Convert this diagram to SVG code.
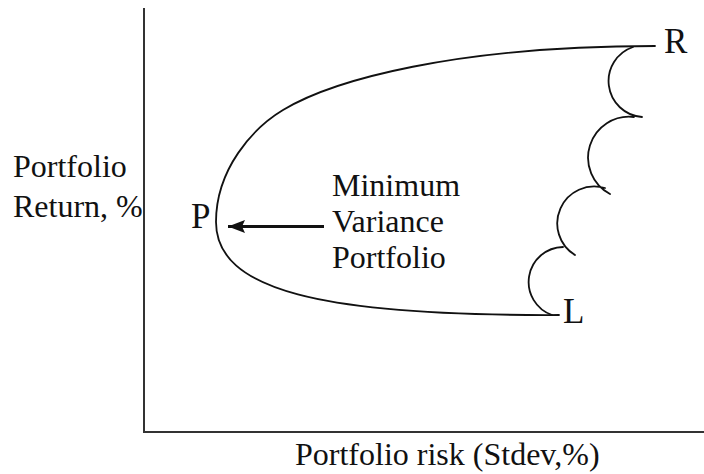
<svg xmlns="http://www.w3.org/2000/svg" width="704" height="474" viewBox="0 0 704 474">
<style>
.t{font-family:'Liberation Serif','DejaVu Serif',serif;fill:#111}
.lbl{font-size:32px}
.pt{font-size:35px}
.ln{fill:none;stroke:#111;stroke-width:1.8;stroke-linecap:round}
.ax{fill:none;stroke:#333;stroke-width:2}
</style>
<defs>
<marker id="ah" viewBox="0 0 17 13" refX="17" refY="6.5" markerWidth="17" markerHeight="13" markerUnits="userSpaceOnUse" orient="auto">
<path d="M17,6.5 L0,0 L3,6.5 L0,13 Z" fill="#111"/>
</marker>
</defs>
<rect width="704" height="474" fill="#fff"/>
<g id="axes">
<path class="ax" d="M144,8 V432 H704"/>
<text class="t lbl" x="13" y="177">Portfolio</text>
<text class="t lbl" x="13" y="217">Return, %</text>
<text class="t lbl" x="295" y="465">Portfolio risk (Stdev,%)</text>
</g>
<g id="frontier">
<path class="ln" d="M655,46 C455,46 333,80 283,110 C253,128 216,169 216,222 C216,290 320,316 559,315"/>
<path class="ln" d="M633,47 A36,36 0 0,0 642,117 M634,117 A41,41 0 0,0 610,194 M605,188 A37,37 0 0,0 575,255 M563,247 A35,35 0 0,0 552,315"/>
</g>
<g id="node-P"><text class="t pt" x="191" y="228">P</text></g>
<g id="node-R"><text class="t pt" x="664" y="53">R</text></g>
<g id="node-L"><text class="t pt" x="563" y="323">L</text></g>
<g id="node-mvp">
<text class="t lbl" x="332" y="196">Minimum</text>
<text class="t lbl" x="332" y="232">Variance</text>
<text class="t lbl" x="332" y="268">Portfolio</text>
</g>
<g id="connectors">
<line x1="324" y1="226.5" x2="228" y2="226.5" stroke="#111" stroke-width="2.8" marker-end="url(#ah)"/>
</g>
</svg>
